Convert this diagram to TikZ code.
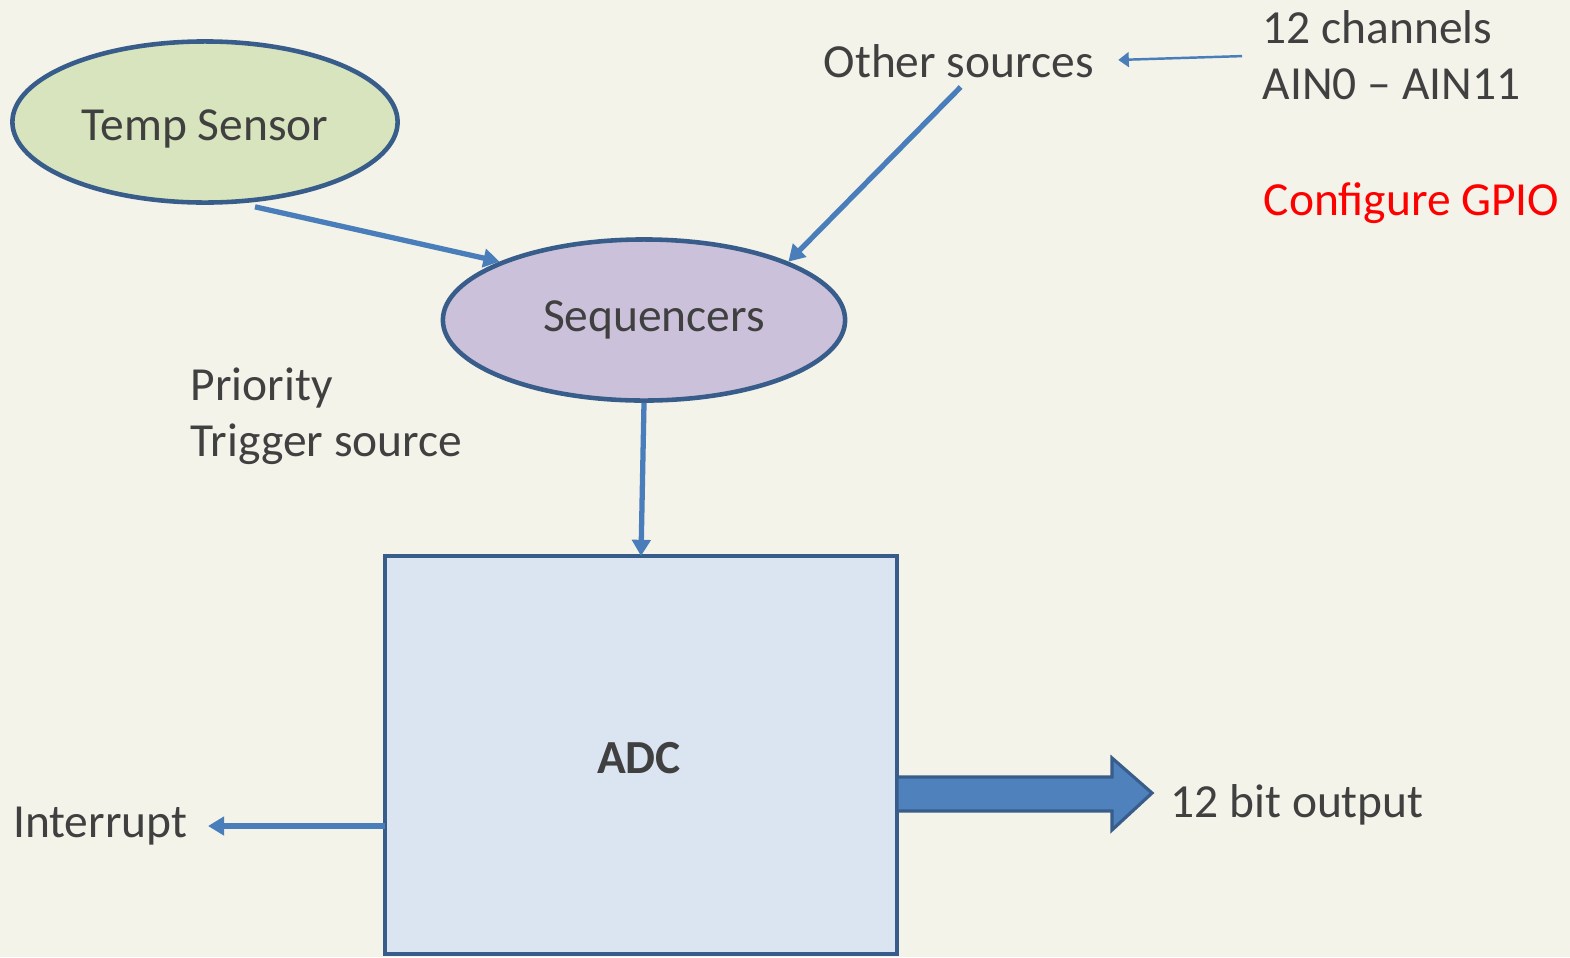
\documentclass[tikz,border=0pt]{standalone}
\usepackage{fontspec}
\setmainfont{Carlito}
\usetikzlibrary{shapes.geometric,calc,arrows.meta}
\definecolor{paper}{HTML}{F3F3E9}
\definecolor{rim}{HTML}{385D8A}
\definecolor{wire}{HTML}{4A7EBB}
\definecolor{ink}{HTML}{404040}
\definecolor{tempfill}{HTML}{D7E4BD}
\definecolor{seqfill}{HTML}{CCC1DA}
\definecolor{adcfill}{HTML}{DBE5F1}
\definecolor{busfill}{HTML}{4F81BD}
\newcommand\gpio[1]{{\color{red}{#1}}}
\tikzset{
  blob/.style={ellipse, draw=rim, line width=1.3pt, inner sep=0pt, text=ink},
  txt/.style={inner sep=0pt, text=ink, align=left},
  feed/.style={draw=wire, line width=1.5pt, -{Triangle[length=4.6pt,width=5.2pt]}},
  thinfeed/.style={draw=wire, line width=0.7pt, -{Triangle[length=3pt,width=4.2pt]}}
}

\begin{document}
\begin{tikzpicture}[x=0.01cm, y=-0.01cm, font=\fontsize{13.5}{16}\selectfont]
          \fill [paper] (0, 0) rectangle (1570, 957);
          \useasboundingbox (0, 0) rectangle (1570, 957);

          \node [blob, fill=tempfill, minimum width=3.85cm, minimum height=1.61cm, text height=0.46cm, text depth=0.1cm] (temp) at (205, 122) {Temp Sensor};
          \node [blob, fill=seqfill, minimum width=4.02cm, minimum height=1.61cm] (seq) at (644, 320) {\hspace{0.2cm}Sequencers};
          \draw [rim, fill=adcfill, line width=1.1pt] (385, 556) rectangle (897, 954);
          \node [txt, font=\fontsize{13.5}{16}\selectfont\bfseries] (adc) at (639, 758) {ADC};
          \coordinate (adcnw) at (385, 556);
          \coordinate (adcn) at (641, 556);

          \node [txt, anchor=base west] (other) at (823, 77) {Other sources};
          \node [txt, anchor=north west] (chan) at (1262, 10) {12 channels\\AIN0 -- AIN11};
          \node [txt, anchor=base west] at (1263, 215) {\gpio{Configure GPIO}};
          \node [txt, anchor=north west] (prio) at (190, 367) {Priority\\Trigger source};
          \node [txt, anchor=east] (intr) at (188, 826) {Interrupt};
          \node [txt, anchor=base west] (bits) at (1170, 817) {12 bit output};

          \draw [feed] ($(temp.south)+(50, 2)$) -- (seq.158);
          \draw [feed] ($(other.south)+(2, 9)$) -- (seq.22);
          \draw [thinfeed, shorten <=0.2cm, shorten >=0.24cm] (chan.west) -- (other.east);
          \draw [feed] (seq.south) -- (adcn);
          \draw [feed, shorten >=0.2cm] (adcnw |- intr.east) -- (intr.east);

          \coordinate (bus) at (897, 793);
          \draw [rim, fill=busfill, line width=0.9pt] ($(bus)+(0, -16)$) -- ++(215, 0) -- ++(0, -19) -- ++(40, 35) -- ++(-40, 37) -- ++(0, -19) -- ++(-215, 0) -- cycle;
        \end{tikzpicture}
\end{document}
